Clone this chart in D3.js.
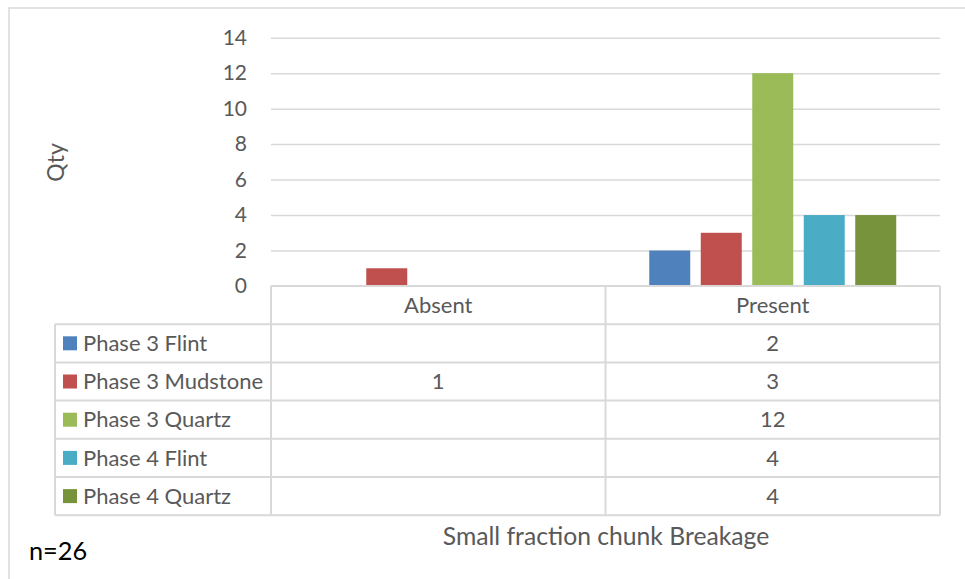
<!DOCTYPE html>
<html>
<head>
<meta charset="utf-8">
<script src="https://cdn.jsdelivr.net/npm/d3@7"></script>
<style>
  html, body { margin: 0; padding: 0; background: #fff; }
  svg { display: block; }
  text { font-family: Lato, "Open Sans", sans-serif; }
</style>
</head>
<body>
<svg id="chart" width="965" height="579"></svg>
<script>
// ---- data ----
const categories = ["Absent", "Present"];
const seriesNames = ["Phase 3 Flint", "Phase 3 Mudstone", "Phase 3 Quartz", "Phase 4 Flint", "Phase 4 Quartz"];
const phase3Flint    = [null, 2];
const phase3Mudstone = [1, 3];
const phase3Quartz   = [null, 12];
const phase4Flint    = [null, 4];
const phase4Quartz   = [null, 4];
const yTicks = [0, 2, 4, 6, 8, 10, 12, 14];
const axisTitle = "Small fraction chunk Breakage";
const yTitle = "Qty";
const note = "n=26";

const seriesValues = [phase3Flint, phase3Mudstone, phase3Quartz, phase4Flint, phase4Quartz];
const palette = ["#4F81BD", "#C0504D", "#9BBB59", "#4BACC6", "#77933C"];

// ---- layout ----
const svg = d3.select("#chart");
const W = 965, H = 579;
const plotLeft = 271, plotRight = 940, plotTop = 37.7, plotBottom = 286;
const tableLeft = 55, rowH = 38.2;
const textColor = "#595959", lineColor = "#D9D9D9";

// outer border
svg.append("rect").attr("x", 9).attr("y", 8).attr("width", W).attr("height", H)
  .attr("fill", "none").attr("stroke", lineColor).attr("stroke-width", 1.5);

const y = d3.scaleLinear().domain([0, 14]).range([plotBottom, plotTop]);
const x0 = d3.scaleBand().domain(categories).range([plotLeft, plotRight]).padding(0);
const x1 = d3.scaleBand().domain(seriesNames).range([0, x0.bandwidth()])
  .paddingInner(0.204).paddingOuter(0.85);

// gridlines
const yAxis = d3.axisLeft(y).tickValues(yTicks).tickSize(-(plotRight - plotLeft)).tickPadding(24);
const gy = svg.append("g").attr("transform", `translate(${plotLeft},0)`).call(yAxis);
gy.select(".domain").remove();
gy.selectAll(".tick line").attr("stroke", lineColor).attr("stroke-width", 1.5)
  .filter(d => d === 0).remove();
gy.selectAll(".tick text").attr("fill", textColor).style("font-size", "21px")
  .style("font-family", "Lato, sans-serif");

// bars
const groups = svg.append("g").selectAll("g").data(categories).join("g")
  .attr("transform", d => `translate(${x0(d)},0)`);
groups.selectAll("rect")
  .data((c, ci) => seriesNames.map((s, si) => ({ s, si, v: seriesValues[si][ci] })).filter(d => d.v != null))
  .join("rect")
  .attr("x", d => x1(d.s))
  .attr("width", x1.bandwidth())
  .attr("y", d => y(d.v))
  .attr("height", d => y(0) - y(d.v))
  .attr("fill", d => palette[d.si]);

// data table
const tbl = svg.append("g");
const line = (x1_, y1_, x2_, y2_) => tbl.append("line")
  .attr("x1", x1_).attr("y1", y1_).attr("x2", x2_).attr("y2", y2_)
  .attr("stroke", lineColor).attr("stroke-width", 2);
const tableBottom = plotBottom + rowH * (seriesNames.length + 1);
line(plotLeft, plotBottom, plotRight, plotBottom);
for (let i = 1; i <= seriesNames.length + 1; i++) {
  line(tableLeft, plotBottom + rowH * i, plotRight, plotBottom + rowH * i);
}
line(tableLeft, plotBottom + rowH, tableLeft, tableBottom);
categories.forEach(c => line(x0(c), plotBottom, x0(c), tableBottom));
line(plotRight, plotBottom, plotRight, tableBottom);

// header labels
tbl.selectAll("text.hdr").data(categories).join("text").attr("class", "hdr")
  .attr("x", d => x0(d) + x0.bandwidth() / 2)
  .attr("y", plotBottom + rowH / 2)
  .attr("dy", "0.35em").attr("text-anchor", "middle")
  .attr("fill", textColor).style("font-size", "22px").text(d => d);

// legend rows
seriesNames.forEach((s, si) => {
  const cy = plotBottom + rowH * (si + 1.5);
  tbl.append("rect").attr("x", 63).attr("y", cy - 7).attr("width", 14).attr("height", 14)
    .attr("fill", palette[si]);
  tbl.append("text").attr("x", 83).attr("y", cy).attr("dy", "0.35em")
    .attr("fill", textColor).style("font-size", "22px").text(s);
  categories.forEach((c, ci) => {
    const v = seriesValues[si][ci];
    if (v == null) return;
    tbl.append("text").attr("x", x0(c) + x0.bandwidth() / 2).attr("y", cy).attr("dy", "0.35em")
      .attr("text-anchor", "middle").attr("fill", textColor).style("font-size", "22px").text(v);
  });
});

// axis titles
svg.append("text").attr("x", (plotLeft + plotRight) / 2 + 0.5).attr("y", 545)
  .attr("text-anchor", "middle").attr("fill", textColor).style("font-size", "24.7px").text(axisTitle);
svg.append("text").attr("transform", "translate(64,162.5) rotate(-90)")
  .attr("text-anchor", "middle").attr("fill", textColor).style("font-size", "23px").text(yTitle);

// note
svg.append("text").attr("x", 29).attr("y", 560).attr("fill", "#000")
  .style("font-size", "25.3px").text(note);
</script>
</body>
</html>
